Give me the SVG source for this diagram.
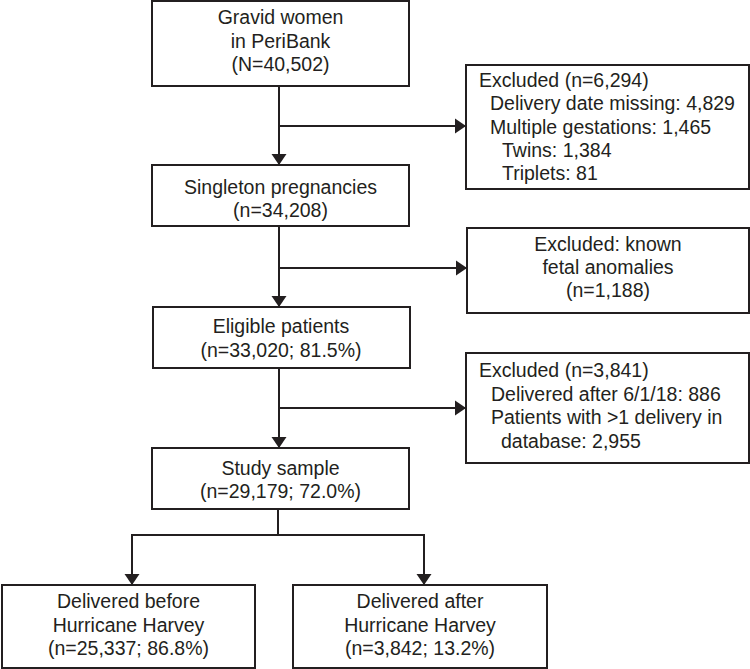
<svg xmlns="http://www.w3.org/2000/svg" width="750" height="669" viewBox="0 0 750 669">
<style>
.box{fill:#fff;stroke:#231f20;stroke-width:2}
.t{font-family:"Liberation Sans",Arial,sans-serif;font-size:19.5px;fill:#231f20}
.c{text-anchor:middle}
.ln{fill:none;stroke:#231f20;stroke-width:2}
.ar{marker-end:url(#ah)}
</style>
<defs>
<marker id="ah" markerUnits="userSpaceOnUse" markerWidth="11" markerHeight="16" refX="11" refY="8" orient="auto">
<path d="M0,0.5 L11,8 L0,15.5 z" fill="#231f20"/>
</marker>
</defs>
<rect width="750" height="669" fill="#fff"/>
<g id="connectors">
<path class="ln ar" d="M279,86 V165"/>
<path class="ln ar" d="M279,126 H466"/>
<path class="ln ar" d="M279,226 V307"/>
<path class="ln ar" d="M279,268 H467"/>
<path class="ln ar" d="M279,368 V448"/>
<path class="ln ar" d="M279,408 H466"/>
<path class="ln" d="M278,509 V535 M132,535 H424"/>
<path class="ln ar" d="M132,534 V585"/>
<path class="ln ar" d="M424,534 V585"/>
</g>
<g id="gravid">
<rect class="box" x="152" y="1" width="257" height="85"/>
<text class="t c" x="280.5" y="24">Gravid women</text>
<text class="t c" x="280.5" y="48">in PeriBank</text>
<text class="t c" x="280.5" y="71">(N=40,502)</text>
</g>
<g id="excluded1">
<rect class="box" x="466" y="65" width="283" height="124"/>
<text class="t" x="479" y="87">Excluded (n=6,294)</text>
<text class="t" x="490" y="110.3">Delivery date missing: 4,829</text>
<text class="t" x="490" y="133.6">Multiple gestations: 1,465</text>
<text class="t" x="502" y="156.9">Twins: 1,384</text>
<text class="t" x="502" y="180.2">Triplets: 81</text>
</g>
<g id="singleton">
<rect class="box" x="152" y="165" width="257" height="61"/>
<text class="t c" x="280.5" y="193.5">Singleton pregnancies</text>
<text class="t c" x="280.5" y="216.5">(n=34,208)</text>
</g>
<g id="excluded2">
<rect class="box" x="467" y="228" width="282" height="85"/>
<text class="t c" x="608" y="251">Excluded: known</text>
<text class="t c" x="608" y="274">fetal anomalies</text>
<text class="t c" x="608" y="297">(n=1,188)</text>
</g>
<g id="eligible">
<rect class="box" x="153" y="307" width="257" height="61"/>
<text class="t c" x="281" y="333">Eligible patients</text>
<text class="t c" x="281" y="357">(n=33,020; 81.5%)</text>
</g>
<g id="excluded3">
<rect class="box" x="466" y="353" width="283" height="110"/>
<text class="t" x="479" y="377">Excluded (n=3,841)</text>
<text class="t" x="491" y="400.5">Delivered after 6/1/18: 886</text>
<text class="t" x="491" y="424">Patients with &gt;1 delivery in</text>
<text class="t" x="501" y="447.5">database: 2,955</text>
</g>
<g id="study">
<rect class="box" x="152" y="448" width="257" height="61"/>
<text class="t c" x="280.5" y="475">Study sample</text>
<text class="t c" x="280.5" y="498">(n=29,179; 72.0%)</text>
</g>
<g id="before">
<rect class="box" x="2" y="585" width="253" height="83"/>
<text class="t c" x="128.5" y="608">Delivered before</text>
<text class="t c" x="128.5" y="632">Hurricane Harvey</text>
<text class="t c" x="128.5" y="655">(n=25,337; 86.8%)</text>
</g>
<g id="after">
<rect class="box" x="293" y="585" width="254" height="83"/>
<text class="t c" x="420" y="608">Delivered after</text>
<text class="t c" x="420" y="632">Hurricane Harvey</text>
<text class="t c" x="420" y="655">(n=3,842; 13.2%)</text>
</g>
</svg>
